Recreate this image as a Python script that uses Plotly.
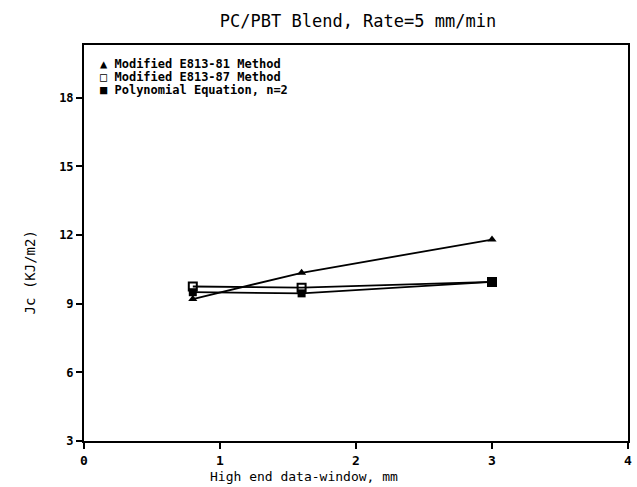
import plotly.graph_objects as go

# Data
x_window = [0.8, 1.6, 3.0]
jc_e813_81 = [9.2, 10.35, 11.8]
jc_e813_87 = [9.75, 9.7, 9.95]
jc_poly = [9.5, 9.45, 9.95]

series_names = ["Modified E813-81 Method", "Modified E813-87 Method", "Polynomial Equation, n=2"]
legend_symbols = ["\u25B2", "\u25A1", "\u25A0"]

x_ticks = [0, 1, 2, 3, 4]
y_ticks = [3, 6, 9, 12, 15, 18]

title_text = "PC/PBT Blend, Rate=5 mm/min"
x_title = "High end data-window, mm"
y_title = "Jc (KJ/m2)"

MONO = "DejaVu Sans Mono"

fig = go.Figure()
fig.add_trace(go.Scatter(x=x_window, y=jc_e813_81, mode="lines+markers", name=series_names[0],
                         line=dict(color="black", width=1.8),
                         marker=dict(symbol="triangle-up", size=8, color="black")))
fig.add_trace(go.Scatter(x=x_window, y=jc_e813_87, mode="lines+markers", name=series_names[1],
                         line=dict(color="black", width=1.8),
                         marker=dict(symbol="square-open", size=8, color="black", line=dict(width=2))))
fig.add_trace(go.Scatter(x=x_window, y=jc_poly, mode="lines+markers", name=series_names[2],
                         line=dict(color="black", width=1.8),
                         marker=dict(symbol="square", size=8, color="black")))

W, H = 637, 487
L, R, T, B = 84, 5, 45, 46
plot_w = W - L - R
plot_h = H - T - B

# legend drawn as text
for i, (sym, nm) in enumerate(zip(legend_symbols, series_names)):
    fig.add_annotation(text=f"{sym} <b>{nm}</b>", xref="paper", yref="paper",
                       x=(98 - L) / plot_w, y=1 - (64 + 13 * i - T) / plot_h,
                       xanchor="left", yanchor="middle", showarrow=False,
                       font=dict(family=MONO, size=12, color="black"))

fig.add_annotation(text=x_title, xref="paper", yref="paper",
                   x=(306 - L) / plot_w, y=-(476 - (H - B)) / plot_h,
                   xanchor="center", yanchor="middle", showarrow=False,
                   font=dict(family=MONO, size=13, color="black"))
fig.add_annotation(text=y_title, xref="paper", yref="paper",
                   x=-(L - 30) / plot_w, y=(H - B - 272) / plot_h,
                   xanchor="center", yanchor="middle", showarrow=False, textangle=-90,
                   font=dict(family=MONO, size=14, color="black"))

fig.update_layout(
    width=W, height=H,
    margin=dict(l=L, r=R, t=T, b=B),
    paper_bgcolor="white", plot_bgcolor="white",
    showlegend=False,
    title=dict(text=title_text, x=(L + plot_w / 2) / W, xanchor="center",
               y=1 - 21 / H, yanchor="middle",
               font=dict(family=MONO, size=17, color="black")),
)
fig.update_xaxes(range=[0, 4], tickvals=x_ticks, ticktext=[str(v) for v in x_ticks],
                 showgrid=False, zeroline=False, showline=True, linecolor="black", linewidth=2,
                 mirror=True, ticks="outside", ticklen=6, tickwidth=1.5, tickcolor="black",
                 tickfont=dict(family=MONO, size=13, color="black", weight="bold"))
fig.update_yaxes(range=[3, 20.3], tickvals=y_ticks, ticktext=[str(v) for v in y_ticks],
                 showgrid=False, zeroline=False, showline=True, linecolor="black", linewidth=2,
                 mirror=True, ticks="outside", ticklen=6, tickwidth=1.5, tickcolor="black",
                 tickfont=dict(family=MONO, size=12, color="black", weight="bold"))

fig.write_html("out.html")
